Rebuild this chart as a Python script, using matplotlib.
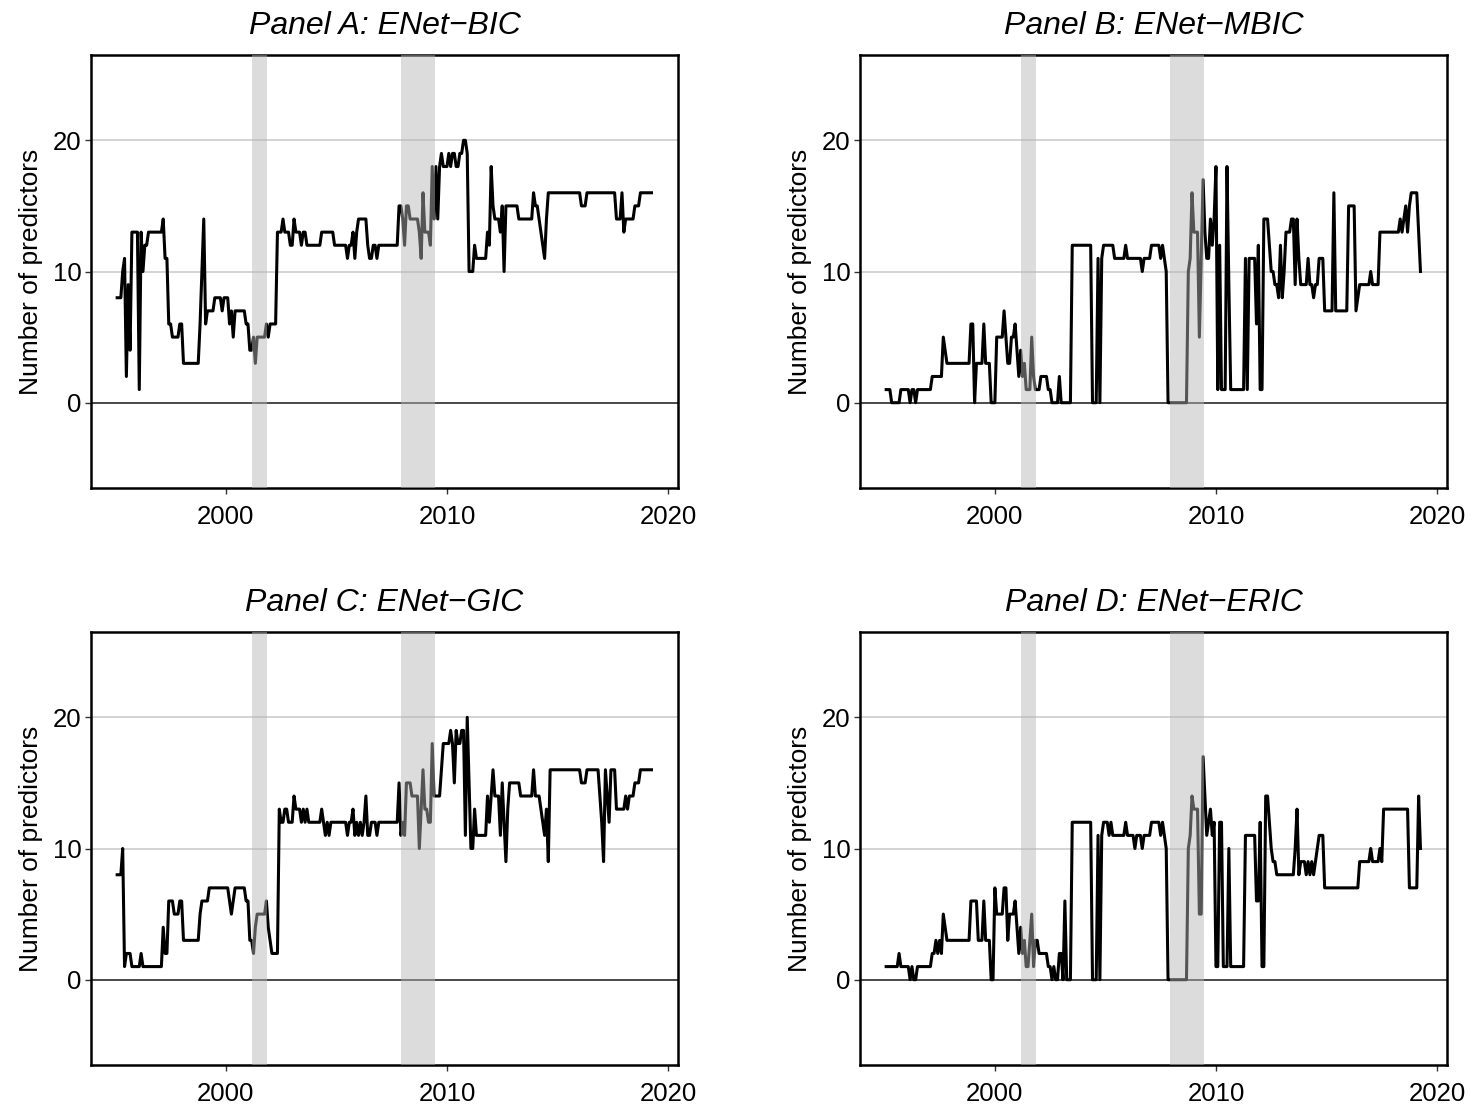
import numpy as np
import matplotlib
matplotlib.use("Agg")
import matplotlib.pyplot as plt

plt.rcParams['font.family'] = ['Liberation Sans', 'DejaVu Sans']

# ========== DATA ========== #
# monthly series, month index counted from Jan 1995 (1 = Feb 1995)
# each value holds from its "from" month until the next change
N_MONTHS = 291
START_YEAR = 1995

titles = ["Panel A: ENet\u2212BIC", "Panel B: ENet\u2212MBIC",
          "Panel C: ENet\u2212GIC", "Panel D: ENet\u2212ERIC"]

bic_from = [1, 4, 5, 6, 7, 8, 9, 13, 14, 15, 16, 18, 26, 27, 29, 31, 35, 37, 46, 47,
            48, 49, 50, 54, 58, 59, 62, 63, 64, 65, 71, 73, 75, 76, 77, 82, 83, 84, 88, 91,
            92, 95, 97, 98, 101, 102, 104, 112, 119, 126, 127, 129, 130, 131, 132, 137, 138, 140, 142, 143,
            154, 156, 157, 158, 160, 165, 166, 167, 168, 171, 172, 173, 174, 175, 176, 177, 178, 181, 182, 183,
            185, 187, 189, 191, 192, 195, 196, 202, 203, 204, 205, 206, 209, 210, 211, 212, 219, 227, 228, 230,
            231, 232, 233, 234, 235, 253, 256, 272, 275, 276, 277, 282, 285]
bic_vals = [8, 10, 11, 2, 9, 4, 13, 1, 13, 10, 12, 13, 14, 11, 6, 5, 6, 3, 6, 10,
            14, 6, 7, 8, 7, 8, 6, 7, 5, 7, 6, 4, 5, 3, 5, 6, 5, 6, 13, 14,
            13, 12, 14, 13, 12, 13, 12, 13, 12, 11, 12, 13, 11, 13, 14, 12, 11, 12, 11, 12,
            15, 14, 12, 15, 14, 13, 11, 16, 13, 12, 18, 14, 18, 14, 18, 19, 18, 19, 18, 19,
            18, 19, 20, 19, 10, 12, 11, 13, 12, 18, 15, 14, 13, 15, 10, 15, 14, 16, 15, 14,
            13, 12, 11, 14, 16, 15, 16, 14, 16, 13, 14, 15, 16]

mbic_from = [1, 4, 9, 14, 15, 17, 18, 26, 32, 33, 34, 47, 49, 50, 54, 55, 58, 61, 65, 66,
             67, 69, 71, 72, 73, 74, 75, 76, 77, 80, 81, 82, 85, 89, 91, 95, 96, 102, 113, 116,
             117, 118, 119, 125, 131, 132, 140, 141, 145, 150, 151, 152, 153, 154, 165, 166, 167, 168, 171, 172,
             173, 174, 175, 177, 178, 179, 180, 181, 182, 183, 186, 187, 188, 196, 197, 198, 202, 203, 204, 206,
             209, 210, 212, 214, 215, 216, 217, 218, 221, 223, 224, 225, 226, 230, 231, 233, 234, 236, 239, 244,
             245, 252, 256, 257, 258, 264, 265, 269, 280, 281, 282, 283, 284, 285, 286, 290, 291]
mbic_vals = [1, 0, 1, 0, 1, 0, 1, 2, 5, 4, 3, 6, 0, 3, 6, 3, 0, 5, 7, 5,
             3, 5, 6, 4, 2, 4, 2, 3, 1, 5, 2, 1, 2, 1, 0, 2, 0, 12, 0, 11,
             0, 11, 12, 11, 12, 11, 10, 11, 12, 11, 12, 11, 10, 0, 10, 11, 16, 13, 5, 11,
             17, 13, 11, 14, 12, 14, 18, 1, 12, 1, 18, 9, 1, 11, 1, 11, 6, 12, 1, 14,
             12, 10, 9, 8, 12, 8, 10, 13, 14, 9, 14, 11, 9, 11, 9, 8, 9, 11, 7, 16,
             7, 15, 7, 8, 9, 10, 9, 13, 14, 13, 14, 15, 13, 15, 16, 13, 10]

gic_from = [1, 4, 5, 6, 9, 14, 15, 26, 27, 29, 32, 35, 37, 46, 47, 51, 62, 63, 64, 65,
            71, 73, 75, 76, 77, 82, 83, 84, 85, 89, 90, 92, 94, 97, 98, 101, 102, 103, 104, 105,
            112, 113, 114, 115, 116, 117, 126, 127, 129, 130, 131, 132, 133, 134, 135, 136, 137, 139, 142, 143,
            154, 155, 156, 157, 158, 161, 165, 166, 167, 168, 170, 172, 173, 177, 178, 182, 183, 184, 185, 186,
            188, 190, 191, 192, 193, 195, 196, 202, 203, 204, 205, 206, 209, 210, 211, 212, 213, 214, 220, 227,
            228, 231, 232, 233, 234, 235, 236, 253, 256, 263, 264, 265, 266, 267, 268, 269, 272, 277, 278, 279,
            282, 285]
gic_vals = [8, 10, 1, 2, 1, 2, 1, 4, 2, 6, 5, 6, 3, 5, 6, 7, 6, 5, 6, 7,
            6, 3, 2, 4, 5, 6, 4, 3, 2, 13, 12, 13, 12, 14, 13, 12, 13, 12, 13, 12,
            13, 12, 11, 12, 11, 12, 11, 12, 13, 11, 12, 11, 12, 11, 12, 14, 11, 12, 11, 12,
            15, 11, 12, 11, 15, 14, 10, 13, 16, 13, 12, 18, 14, 16, 18, 19, 18, 15, 19, 18,
            19, 11, 20, 15, 10, 13, 11, 14, 12, 14, 16, 14, 11, 15, 12, 9, 13, 15, 14, 16,
            14, 13, 12, 11, 13, 9, 16, 15, 16, 14, 12, 9, 16, 14, 12, 16, 13, 14, 13, 14,
            15, 16]

eric_from = [1, 8, 9, 14, 15, 16, 18, 26, 28, 29, 30, 31, 32, 33, 34, 47, 51, 54, 55, 58,
             60, 61, 65, 67, 68, 71, 72, 73, 74, 75, 76, 77, 79, 80, 81, 82, 84, 89, 91, 92,
             93, 95, 97, 98, 99, 102, 113, 116, 117, 118, 119, 122, 123, 124, 131, 132, 136, 137, 140, 141,
             145, 150, 151, 152, 153, 154, 165, 166, 167, 168, 171, 173, 174, 175, 176, 177, 178, 179, 180, 182,
             184, 187, 188, 196, 202, 204, 205, 207, 209, 210, 211, 213, 223, 224, 225, 226, 229, 230, 231, 232,
             233, 234, 235, 236, 239, 258, 264, 265, 269, 270, 271, 285, 290, 291]
eric_vals = [1, 2, 1, 0, 1, 0, 1, 2, 3, 2, 3, 2, 5, 4, 3, 6, 3, 6, 3, 0,
             7, 5, 7, 3, 5, 6, 4, 2, 4, 2, 3, 1, 3, 5, 1, 3, 2, 1, 0, 1,
             0, 2, 0, 6, 0, 12, 0, 11, 0, 11, 12, 11, 12, 11, 12, 11, 10, 11, 10, 11,
             12, 11, 12, 11, 10, 0, 10, 11, 14, 13, 5, 17, 14, 11, 12, 13, 11, 12, 1, 12,
             1, 10, 1, 11, 6, 12, 1, 14, 12, 10, 9, 8, 10, 13, 8, 9, 8, 9, 8, 9,
             8, 9, 10, 11, 7, 9, 10, 9, 10, 9, 13, 7, 14, 10]

# recession periods (decimal years)
recessions = [(2001.17, 2001.86), (2007.92, 2009.45)]

x_ticks = [2000, 2010, 2020]
y_ticks = [0, 10, 20]

# ========== FUNCTIONS ========== #

def expand(starts, vals, n=N_MONTHS):
    """Turn change points into a full monthly series"""
    counts = np.diff(list(starts) + [n + 1])
    return np.repeat(vals, counts)

# ========== PLOT ========== #

months = np.arange(1, N_MONTHS + 1)
years = START_YEAR + months / 12

series = [expand(bic_from, bic_vals), expand(mbic_from, mbic_vals),
          expand(gic_from, gic_vals), expand(eric_from, eric_vals)]

W, H = 1476, 1104
fig = plt.figure(figsize=(W / 100, H / 100), dpi=100)
corners = [(91, 55), (860, 55), (91, 632), (860, 632)]  # left, top in pixels

for (lp, tp), title, y in zip(corners, titles, series):
    ax = fig.add_axes([lp / W, 1 - (tp + 433) / H, 587 / W, 433 / H])
    for g in y_ticks[1:]:
        ax.axhline(g, color='#c8c8c8', lw=1.1, zorder=1)
    ax.axhline(0, color='#3a3a3a', lw=1.3, zorder=1)
    ax.plot(years, y, color='black', lw=2.2, zorder=2)
    for a, b in recessions:
        ax.axvspan(a, b, color='#b5b5b5', alpha=0.47, lw=0, zorder=3)
    ax.set_xlim(1993.9, 2020.45)
    ax.set_ylim(-6.5, 26.5)
    ax.set_xticks(x_ticks)
    ax.set_yticks(y_ticks)
    ax.tick_params(labelsize=18.5, length=4.5, width=1, color='#333333')
    ax.tick_params(axis='x', pad=7.5)
    ax.tick_params(axis='y', pad=2.5)
    for s in ax.spines.values():
        s.set_linewidth(1.8)
    ax.set_title(title, fontsize=23, style='italic', pad=15)
    ax.set_ylabel("Number of predictors", fontsize=19, labelpad=7)

fig.savefig("out.png", dpi=100)
